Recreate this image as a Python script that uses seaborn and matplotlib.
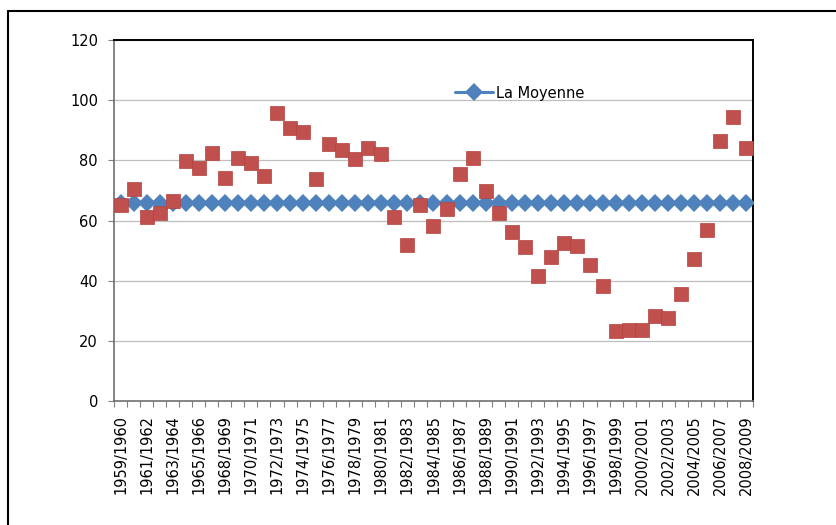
import numpy as np
import pandas as pd
import matplotlib
matplotlib.use("Agg")
import matplotlib.pyplot as plt
from matplotlib.lines import Line2D
import seaborn as sns

# Seasons (one season is missing between 1965/1966 and 1968/1969)
saisons = ["1959/1960", "1960/1961", "1961/1962", "1962/1963", "1963/1964",
           "1964/1965", "1965/1966", "1966/1967", "1968/1969", "1969/1970",
           "1970/1971", "1971/1972", "1972/1973", "1973/1974", "1974/1975",
           "1975/1976", "1976/1977", "1977/1978", "1978/1979", "1979/1980",
           "1980/1981", "1981/1982", "1982/1983", "1983/1984", "1984/1985",
           "1985/1986", "1986/1987", "1987/1988", "1988/1989", "1989/1990",
           "1990/1991", "1991/1992", "1992/1993", "1993/1994", "1994/1995",
           "1995/1996", "1996/1997", "1997/1998", "1998/1999", "1999/2000",
           "2000/2001", "2001/2002", "2002/2003", "2003/2004", "2004/2005",
           "2005/2006", "2006/2007", "2007/2008", "2008/2009"]

valeurs = [65.0, 70.5, 61.1, 62.4, 66.6, 79.9, 77.3, 82.3, 74.0, 80.7,
           79.1, 74.7, 95.7, 90.9, 89.3, 73.8, 85.4, 83.6, 80.3, 84.1,
           82.1, 61.1, 51.9, 65.2, 58.3, 63.9, 75.5, 80.7, 69.7, 62.4,
           56.1, 51.2, 41.4, 47.8, 52.5, 51.5, 45.3, 38.3, 23.3, 23.5,
           23.5, 28.2, 27.6, 35.7, 47.3, 57.0, 86.5, 94.5, 84.0]

moyenne = [65.8] * len(saisons)

df = pd.DataFrame({"pos": np.arange(len(saisons)), "saison": saisons,
                   "valeur": valeurs, "moyenne": moyenne})

sns.set_style("white")
plt.rcParams['font.family'] = ['DejaVu Sans']
plt.rcParams['text.color'] = 'black'
plt.rcParams['xtick.color'] = 'black'
plt.rcParams['ytick.color'] = 'black'

fig = plt.figure(figsize=(8.37, 5.25), dpi=100)
ax = fig.add_axes([114 / 837, 1 - 401 / 525, 639 / 837, 361 / 525])

# gridlines
for yv in range(20, 121, 20):
    ax.axhline(yv, color="#bfbfbf", lw=0.9, zorder=0)

sns.lineplot(data=df, x="pos", y="moyenne", ax=ax, color="#4f81bd", lw=2.2,
             marker="D", markersize=9.5, markeredgewidth=0, label="La Moyenne",
             zorder=3)
sns.scatterplot(data=df, x="pos", y="valeur", ax=ax, color="#c0504d", marker="s",
                s=105, edgecolor="#b5403d", linewidth=0.5, zorder=4, legend=False)

ax.set_xlim(-0.5, len(saisons) - 0.5)
ax.set_ylim(0, 120)
ax.set_yticks(range(0, 121, 20))
ax.set_xlabel("")
ax.set_ylabel("")

# category labels every other season, ticks at boundaries
ax.set_xticks(df["pos"][::2])
ax.set_xticklabels(df["saison"][::2], rotation=90, fontsize=10.5)
ax.set_xticks(np.arange(-0.5, len(saisons)), minor=True)
ax.tick_params(axis="x", which="major", length=0, pad=10)
ax.tick_params(axis="x", which="minor", length=4.5, color="#808080", width=0.8,
               direction="out", bottom=True)
ax.tick_params(axis="y", length=4.5, color="#808080", width=0.8, direction="out",
               left=True, pad=7, labelsize=10.5)

for side in ["left", "bottom"]:
    ax.spines[side].set_color("#6f6f6f")
    ax.spines[side].set_linewidth(1.2)
for side in ["top", "right"]:
    ax.spines[side].set_color("black")
    ax.spines[side].set_linewidth(1.4)

leg = ax.legend(loc="center left", bbox_to_anchor=((455 - 114) / 639, (401 - 93) / 361),
                frameon=False, fontsize=10.5, handlelength=2.6, handletextpad=0.2,
                borderpad=0, borderaxespad=0)

# outer chart frame (left and top edges)
fig.add_artist(Line2D([8.5 / 837, 8.5 / 837], [0, 1 - 11 / 525], color="black", lw=1.5))
fig.add_artist(Line2D([8.5 / 837, 1], [1 - 11 / 525, 1 - 11 / 525], color="black", lw=1.5))

fig.savefig("out.png", dpi=100)
